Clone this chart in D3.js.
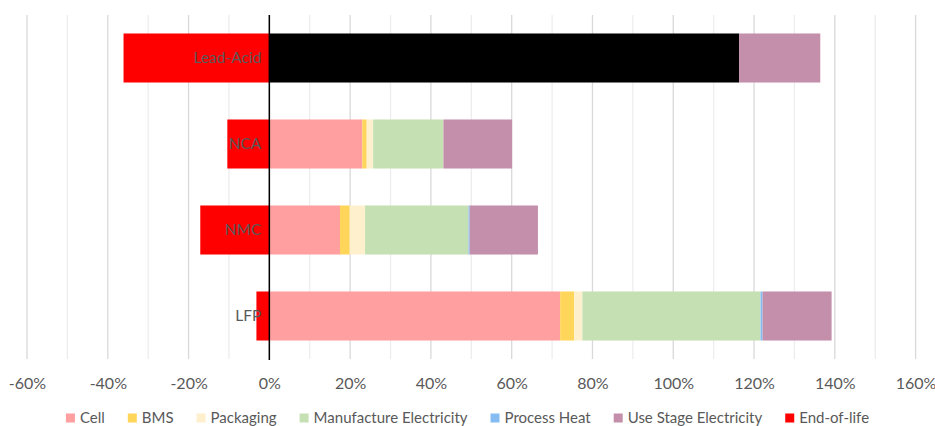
<!DOCTYPE html>
<html>
<head>
<meta charset="utf-8">
<script src="https://cdn.jsdelivr.net/npm/d3@7"></script>
<style>
  html, body { margin: 0; padding: 0; background: #fff; }
  svg { display: block; font-family: Lato, "Open Sans", sans-serif; }
</style>
</head>
<body>
<svg id="chart" width="935" height="426"></svg>
<script>
// Battery chemistries, top to bottom
const categories = ["Lead-Acid", "NCA", "NMC", "LFP"];

// Life-cycle stages (share of total, as fractions)
const seriesNames = ["Cell", "BMS", "Packaging", "Manufacture Electricity", "Process Heat", "Use Stage Electricity", "End-of-life"];
const cellValues        = [1.163, 0.230, 0.175, 0.720];
const bmsValues         = [0.000, 0.011, 0.024, 0.035];
const packagingValues   = [0.000, 0.016, 0.038, 0.020];
const manufactureValues = [0.000, 0.174, 0.256, 0.441];
const processHeatValues = [0.000, 0.000, 0.003, 0.005];
const useStageValues    = [0.201, 0.170, 0.169, 0.171];
const endOfLifeValues   = [-0.361, -0.104, -0.171, -0.032];

const xTickValues = [-0.6, -0.4, -0.2, 0, 0.2, 0.4, 0.6, 0.8, 1.0, 1.2, 1.4, 1.6];

const seriesValues = [cellValues, bmsValues, packagingValues, manufactureValues,
                      processHeatValues, useStageValues, endOfLifeValues];
const colors = ["#FF9F9F", "#FFD65A", "#FFF0CD", "#C5E0B3", "#86BCF2", "#C48FAB", "#FF0000"];
// the lead-acid cell segment is drawn in black
const cellColorOverride = { "Lead-Acid": "#000000" };

const svg = d3.select("#chart");
const margin = { top: 15, bottom: 359 };
const x = d3.scaleLinear().domain([-0.6, 1.6]).range([27, 915.6]);
const y = d3.scaleBand().domain(categories).range([margin.top, margin.bottom])
  .paddingInner(0.43).paddingOuter(0.215);

// gridlines every 10%
const gridVals = d3.range(-6, 17).map(d => d / 10);
svg.append("g").selectAll("line").data(gridVals).join("line")
  .attr("x1", d => x(d)).attr("x2", d => x(d))
  .attr("y1", margin.top).attr("y2", margin.bottom)
  .attr("stroke", (d, i) => i % 2 === 0 ? "#D9D9D9" : "#EDEDED")
  .attr("stroke-width", 1.3);

// stacked bars: positives stack right from zero, negatives left
const rows = categories.map((c, ci) => {
  let pos = 0, neg = 0;
  return seriesNames.map((s, si) => {
    const v = seriesValues[si][ci];
    let x0, x1;
    if (v >= 0) { x0 = pos; x1 = pos + v; pos = x1; }
    else { x1 = neg; x0 = neg + v; neg = x0; }
    let color = colors[si];
    if (si === 0 && cellColorOverride[c]) color = cellColorOverride[c];
    return { cat: c, series: s, x0, x1, color, v };
  }).filter(d => d.v !== 0);
});

svg.append("g").selectAll("rect").data(rows.flat()).join("rect")
  .attr("x", d => x(d.x0))
  .attr("width", d => x(d.x1) - x(d.x0))
  .attr("y", d => y(d.cat))
  .attr("height", y.bandwidth())
  .attr("fill", d => d.color);

// zero line
svg.append("line")
  .attr("x1", x(0)).attr("x2", x(0))
  .attr("y1", margin.top).attr("y2", margin.bottom + 1)
  .attr("stroke", "#000").attr("stroke-width", 1.5);

// category labels next to the zero line
const yAxis = d3.axisLeft(y).tickSize(0).tickPadding(8);
const yg = svg.append("g").attr("transform", `translate(${x(0)},0)`).call(yAxis);
yg.select(".domain").remove();
yg.selectAll("text").attr("fill", "#595959").style("font-size", "15.5px")
  .style("font-family", "Lato, 'Open Sans', sans-serif");

// x axis tick labels (plain hyphen for negatives)
const pct = d => `${Math.round(d * 100)}%`;
const xAxis = d3.axisBottom(x).tickValues(xTickValues).tickSize(0).tickPadding(0)
  .tickFormat(pct);
const xg = svg.append("g").attr("transform", `translate(0,${383})`).call(xAxis);
xg.select(".domain").remove();
xg.selectAll("text").attr("fill", "#595959").attr("dy", "0.35em")
  .style("font-size", "16px").style("font-family", "Lato, 'Open Sans', sans-serif");

// legend
const legend = svg.append("g").attr("transform", "translate(0,418)");
const items = legend.selectAll("g").data(seriesNames).join("g");
items.append("rect").attr("width", 9).attr("height", 9).attr("y", -4.5)
  .attr("fill", (d, i) => colors[i]);
items.append("text").attr("x", 14).attr("dy", "0.35em").text(d => d)
  .attr("fill", "#595959").style("font-size", "15px");
const widths = [];
items.each(function () {
  widths.push(this.querySelector("text").getComputedTextLength() + 14);
});
const gap = 23;
const total = d3.sum(widths) + gap * (widths.length - 1);
let cur = (935 - total) / 2;
items.attr("transform", (d, i) => {
  const t = `translate(${cur},0)`;
  cur += widths[i] + gap;
  return t;
});
</script>
</body>
</html>
